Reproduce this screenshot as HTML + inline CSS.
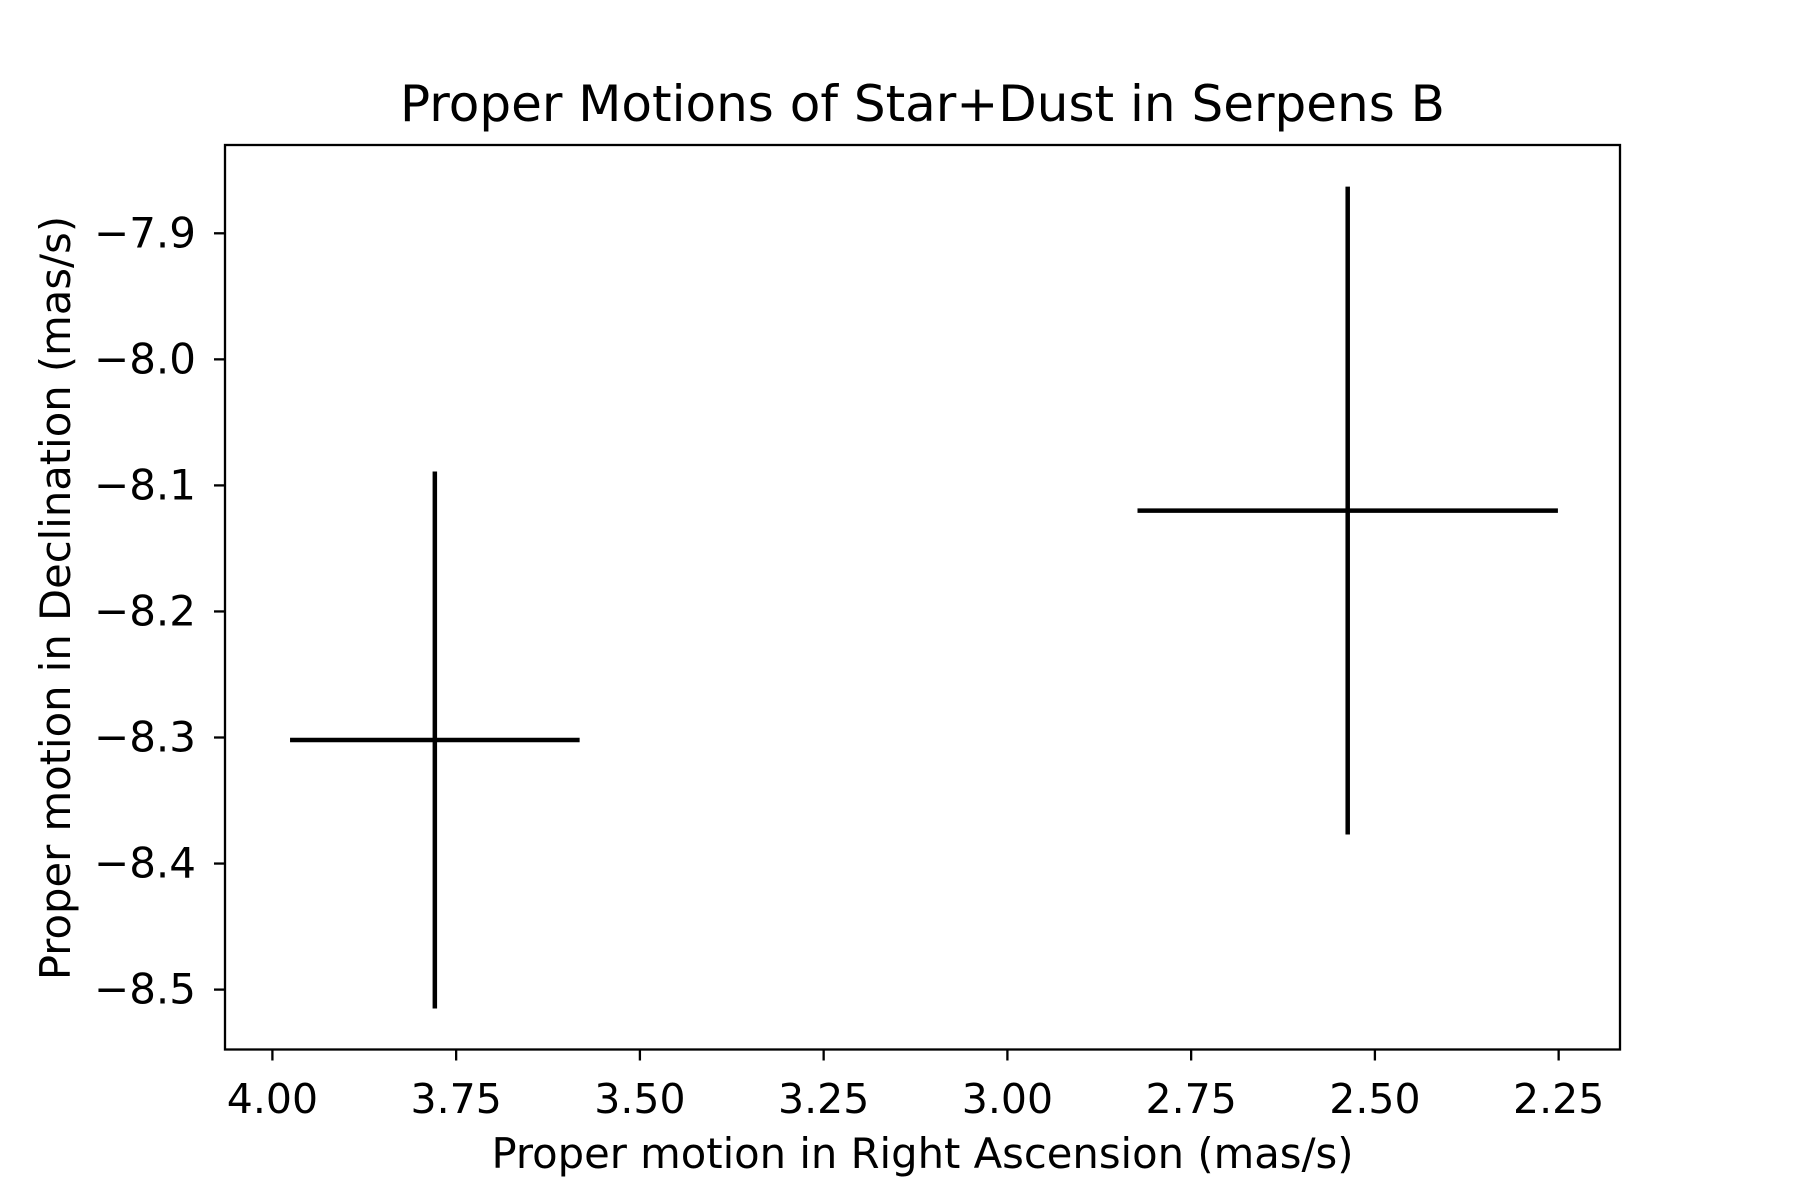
<!DOCTYPE html>
<html><head><meta charset="utf-8"><style>html,body{margin:0;padding:0;background:#fff}svg{display:block}text{font-family:"DejaVu Sans","Liberation Sans",sans-serif;fill:#000}</style></head>
<body>
<svg id="chart" width="1800" height="1200" viewBox="0 0 1800 1200" xmlns="http://www.w3.org/2000/svg">
<rect x="0" y="0" width="1800" height="1200" fill="#fff"/>
<g id="plot"></g>
</svg>
<script>
const xVals = [3.779, 2.537];
const yVals = [-8.302, -8.12];
const xErr = [0.197, 0.286];
const yErr = [0.213, 0.257];
const xTicks = [4.00, 3.75, 3.50, 3.25, 3.00, 2.75, 2.50, 2.25];
const xTickLabels = ["4.00","3.75","3.50","3.25","3.00","2.75","2.50","2.25"];
const yTicks = [-7.9, -8.0, -8.1, -8.2, -8.3, -8.4, -8.5];
const yTickLabels = ["\u22127.9","\u22128.0","\u22128.1","\u22128.2","\u22128.3","\u22128.4","\u22128.5"];

const L=225,R=1620,T=145,B=1049.5;
function xs(v){return 272.4+(4-v)*735;}
function ys(v){return 233.3+(-7.9-v)*1260.5;}
const NS="http://www.w3.org/2000/svg";
const g=document.getElementById('plot');
function mk(tag,attrs,parent){const e=document.createElementNS(NS,tag);for(const k in attrs)e.setAttribute(k,attrs[k]);(parent||g).appendChild(e);return e;}

for(let i=0;i<xVals.length;i++){
  const h=mk('line',{x1:xs(xVals[i]-xErr[i]),x2:xs(xVals[i]+xErr[i]),y1:ys(yVals[i]),y2:ys(yVals[i]),stroke:'#000','stroke-width':4.5});
  
  
  const v=mk('line',{x1:xs(xVals[i]),x2:xs(xVals[i]),y1:ys(yVals[i]-yErr[i]),y2:ys(yVals[i]+yErr[i]),stroke:'#000','stroke-width':4.5});
  
  
}
const frame=mk('rect',{x:L,y:T,width:R-L,height:B-T,fill:'none',stroke:'#000','stroke-width':2.3});



xTicks.forEach((v,i)=>{
  const t=mk('line',{x1:xs(v),x2:xs(v),y1:B,y2:B+11,stroke:'#000','stroke-width':2.3});
  
  
  const l=mk('text',{x:xs(v),y:1113,'font-size':41,'text-anchor':'middle'});
  l.textContent=xTickLabels[i];
  
  
});
yTicks.forEach((v,i)=>{
  const t=mk('line',{x1:L-11,x2:L,y1:ys(v),y2:ys(v),stroke:'#000','stroke-width':2.3});
  
  
  const l=mk('text',{x:196,y:ys(v)+14,'font-size':42,'text-anchor':'end'});
  l.textContent=yTickLabels[i];
  
  
});
const title=mk('text',{x:(L+R)/2,y:121,'font-size':50,'text-anchor':'middle'});
title.textContent='Proper Motions of Star+Dust in Serpens B';


const xl=mk('text',{x:(L+R)/2,y:1168,'font-size':41.7,'text-anchor':'middle'});
xl.textContent='Proper motion in Right Ascension (mas/s)';


const yl=mk('text',{x:0,y:0,'font-size':41.7,'text-anchor':'middle',transform:'translate(70,598) rotate(-90)'});
yl.textContent='Proper motion in Declination (mas/s)';


</script>
</body></html>
